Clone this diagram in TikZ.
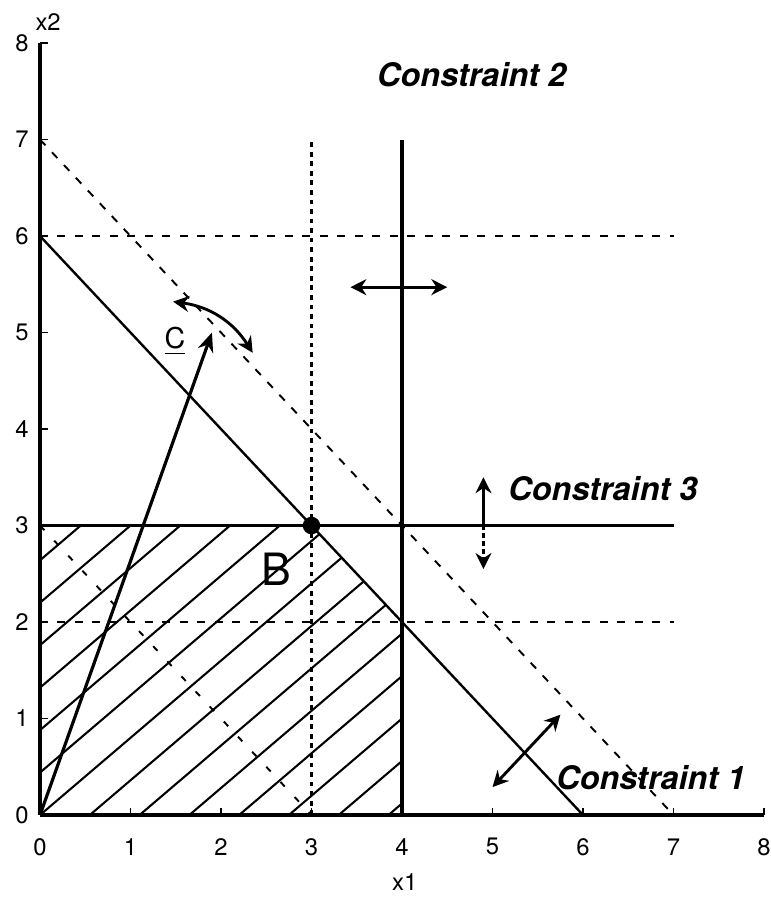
\documentclass[tikz,border=0pt]{standalone}
\usepackage{fontspec}
\setsansfont{TeX Gyre Heros}
\usetikzlibrary{arrows.meta,positioning,calc}

\tikzset{
  axisline/.style={line width=1.1pt},
  bound/.style={line width=0.75pt},
  heavybound/.style={line width=1.1pt},
  shifted/.style={line width=0.6pt, dash pattern=on 2.5pt off 3pt},
  isoline/.style={line width=0.6pt, dash pattern=on 2pt off 4.5pt},
  hatchline/.style={line width=0.65pt},
  moveline/.style={line width=0.9pt, {Stealth[length=5pt,width=5pt]}-{Stealth[length=5pt,width=5pt]}},
  ticklabel/.style={font=\sffamily\fontsize{7.5}{9}\selectfont, inner sep=1pt},
  clabel/.style={font=\sffamily\bfseries\itshape\fontsize{10.2}{12}\selectfont, inner sep=1pt},
}

\begin{document}
\begin{tikzpicture}[x=1cm,y=1.0663cm]
    \useasboundingbox (-0.442,-0.870) rectangle (8.077,8.446);

    % Hatched feasible region
    \begin{scope}
        \clip (0,0) -- (0,3) -- (3,3) -- (4,2) -- (4,0) -- cycle;
        \foreach \k in {-7,...,7} {
            \draw[hatchline] (0.55*\k,0) -- ++(5,4);
        }
    \end{scope}

    % Axes
    \draw[axisline] (0,0) -- (8,0);
    \draw[axisline] (0,0) -- (0,8);
    \foreach \v in {1,...,8} {
        \draw (\v,0) -- (\v,0.07);
        \draw (0,\v) -- (0.09,\v);
    }
    \foreach \v in {0,...,8} {
        \node[ticklabel] (xt\v) at (\v,-0.33) {\v};
        \node[ticklabel] (yt\v) at (-0.2,\v) {\v};
    }
    \node[ticklabel] (xname) at (4.03,-0.69) {x1};
    \node[ticklabel] (yname) at (0.09,8.22) {x2};

    % Constraint lines
    \draw[bound] (0,6) -- (6,0);
    \draw[heavybound] (4,0) -- (4,7);
    \draw[heavybound] (0,3) -- (7,3);

    % Shifted constraints
    \draw[shifted] (0,7) -- (7,0);
    \draw[shifted] (0,6) -- (7,6);
    \draw[shifted] (0,2) -- (7,2);
    \draw[line width=1.1pt, dash pattern=on 1.5pt off 1.5pt] (3,0) -- (3,7);

    % Objective line through the region
    \draw[isoline] (0,3) -- (3,0);

    % Optimum
    \node[circle, fill, inner sep=0pt, minimum size=5.5pt] (opt) at (3,3) {};
    \node[font=\sffamily\fontsize{14}{16}\selectfont, inner sep=1pt] (bname) at (2.61,2.55) {B};

    % Objective vector
    \coordinate (orig) at (0,0);
    \coordinate (ctip) at (1.9,5);
    \draw[line width=1pt, -{Stealth[length=6pt,width=5pt]}] (orig) -- (ctip);
    \node[font=\sffamily\fontsize{9}{11}\selectfont, inner sep=1pt] (cname) at (1.49,4.91) {\underline{C}};

    % Movement arrows
    \coordinate (turnl) at (1.47,5.32);
    \coordinate (turnr) at (2.35,4.79);
    \draw[moveline] (turnl) to[bend left=25] (turnr);

    \coordinate (twol) at (3.43,5.47);
    \coordinate (twor) at (4.5,5.47);
    \draw[moveline] (twol) -- (twor);

    \coordinate (thrm) at (4.9,3);
    \coordinate (thru) at (4.9,3.5);
    \coordinate (thrd) at (4.9,2.55);
    \draw[line width=1pt, -{Stealth[length=5pt,width=5pt]}] (thrm) -- (thru);
    \draw[line width=0.8pt, dash pattern=on 1.5pt off 1pt, -{Stealth[length=5pt,width=5pt]}] (thrm) -- (thrd);

    \coordinate (onel) at (5.0,0.29);
    \coordinate (oneu) at (5.75,1.04);
    \draw[moveline] (onel) -- (oneu);

    % Labels
    \node[clabel] (c2) at (4.77,7.67) {Constraint 2};
    \node[clabel] (c3) at (6.22,3.38) {Constraint 3};
    \node[clabel] (c1) at (6.75,0.39) {Constraint 1};
\end{tikzpicture}
\end{document}
